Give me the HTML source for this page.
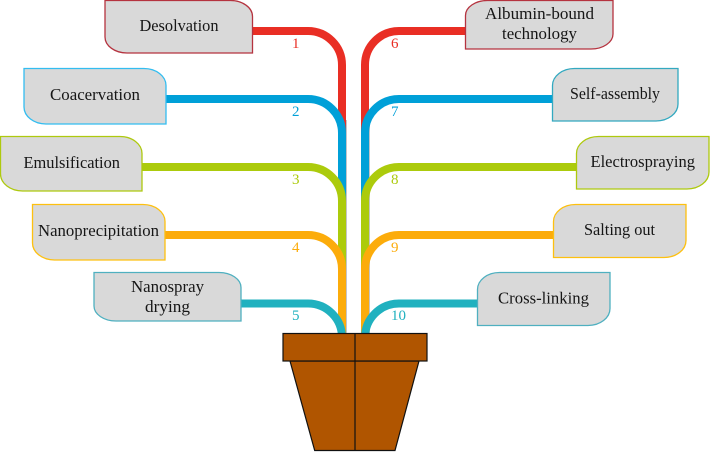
<!DOCTYPE html>
<html>
<head>
<meta charset="utf-8">
<style>
html,body{margin:0;padding:0;background:#fff;width:710px;height:452px;overflow:hidden}
svg{display:block}
text{font-family:"Liberation Serif",serif}
.l{font-size:16.5px;fill:#161616}
.n{font-size:15px}
</style>
</head>
<body>
<svg width="710" height="452" viewBox="0 0 710 452" xmlns="http://www.w3.org/2000/svg">
<g fill="none" stroke-width="8">
<g stroke="#c4c4c8" stroke-width="1">
<path d="M346.5 120V334M369.5 120V334"/>
</g>
<path d="M250 31H308A34 34 0 0 1 342 65V140" stroke="#e92e24"/>
<path d="M468 31H399A34 34 0 0 0 365 65V140" stroke="#e92e24"/>
<path d="M164 99H308A34 34 0 0 1 342 133V210" stroke="#00a0d8"/>
<path d="M555 99H399A34 34 0 0 0 365 133V210" stroke="#00a0d8"/>
<path d="M140 167H308A34 34 0 0 1 342 201V280" stroke="#accb0c"/>
<path d="M579 167H399A34 34 0 0 0 365 201V280" stroke="#accb0c"/>
<path d="M163 235H308A34 34 0 0 1 342 269V334" stroke="#fcac0b"/>
<path d="M556 235H399A34 34 0 0 0 365 269V334" stroke="#fcac0b"/>
<path d="M239 303.500H308A34 34 0 0 1 342 337.500" stroke="#20b1bf"/>
<path d="M480 303.500H399A34 34 0 0 0 365 337.500" stroke="#20b1bf"/>
</g>

<g fill="#d9d9d9" stroke-width="1.300">
<path d="M105 0.500H230A22 16 0 0 1 252.500 16.500V53H127A22 16 0 0 1 105 37Z" stroke="#b5333f"/>
<path d="M24 68.500H144A22 17 0 0 1 166 85.500V124H46A22 17 0 0 1 24 107Z" stroke="#33bdf0"/>
<path d="M0.500 136.500H120A22 17 0 0 1 142 153.500V191H22.500A22 17 0 0 1 0.500 174Z" stroke="#aec90e"/>
<path d="M32.500 204.500H143A22 17 0 0 1 165 221.500V260H54.500A22 17 0 0 1 32.500 243Z" stroke="#fdc010"/>
<path d="M94 272.500H219A22 15 0 0 1 241 287.500V321H116A22 15 0 0 1 94 306Z" stroke="#4fb0c0"/>
<path d="M465.500 15.500A22 15 0 0 1 487.500 0.500H613V34A22 15 0 0 1 591 49H465.500Z" stroke="#b5333f"/>
<path d="M552.500 85.500A22 17 0 0 1 574.500 68.500H678V104A22 17 0 0 1 656 121H552.500Z" stroke="#33a9c0"/>
<path d="M576.500 153.500A22 17 0 0 1 598.500 136.500H709V172A22 17 0 0 1 687 189H576.500Z" stroke="#aec90e"/>
<path d="M553.500 221.500A22 17 0 0 1 575.500 204.500H686V240.500A22 17 0 0 1 664 257.500H553.500Z" stroke="#fdc010"/>
<path d="M477.500 289.500A22 17 0 0 1 499.500 272.500H610V308.500A22 17 0 0 1 588 325.500H477.500Z" stroke="#4fb0c0"/>
</g>

<g class="l">
<text class="l" x="139.500" y="31" textLength="79" lengthAdjust="spacingAndGlyphs">Desolvation</text>
<text class="l" x="50" y="100" textLength="90" lengthAdjust="spacingAndGlyphs">Coacervation</text>
<text class="l" x="23.500" y="168" textLength="96.500" lengthAdjust="spacingAndGlyphs">Emulsification</text>
<text class="l" x="38" y="236" textLength="121" lengthAdjust="spacingAndGlyphs">Nanoprecipitation</text>
<text class="l" x="131" y="292" textLength="73" lengthAdjust="spacingAndGlyphs">Nanospray</text>
<text class="l" x="145" y="312" textLength="45" lengthAdjust="spacingAndGlyphs">drying</text>
<text class="l" x="485" y="19" textLength="109" lengthAdjust="spacingAndGlyphs">Albumin-bound</text>
<text class="l" x="502" y="39" textLength="75" lengthAdjust="spacingAndGlyphs">technology</text>
<text class="l" x="570" y="99" textLength="90" lengthAdjust="spacingAndGlyphs">Self-assembly</text>
<text class="l" x="590.500" y="167" textLength="104.500" lengthAdjust="spacingAndGlyphs">Electrospraying</text>
<text class="l" x="584" y="235" textLength="71" lengthAdjust="spacingAndGlyphs">Salting out</text>
<text class="l" x="498" y="303.500" textLength="91" lengthAdjust="spacingAndGlyphs">Cross-linking</text>
</g>

<g class="n">
<text class="n" x="292" y="48" fill="#e92e24">1</text>
<text class="n" x="292" y="116" fill="#00a0d8">2</text>
<text class="n" x="292" y="184" fill="#accb0c">3</text>
<text class="n" x="292" y="252" fill="#fcac0b">4</text>
<text class="n" x="292" y="320" fill="#20b1bf">5</text>
<text class="n" x="391" y="48" fill="#e92e24">6</text>
<text class="n" x="391" y="116" fill="#00a0d8">7</text>
<text class="n" x="391" y="184" fill="#accb0c">8</text>
<text class="n" x="391" y="252" fill="#fcac0b">9</text>
<text class="n" x="391" y="320" fill="#20b1bf">10</text>
</g>

<g fill="#b05500" stroke="#111" stroke-width="1.200">
<path d="M290 361H419L395 450.500H314.700Z"/>
<rect x="283" y="333.500" width="144" height="27.500"/>
<path d="M355 333.500V450.500" fill="none"/>
</g>
</svg>
</body>
</html>
